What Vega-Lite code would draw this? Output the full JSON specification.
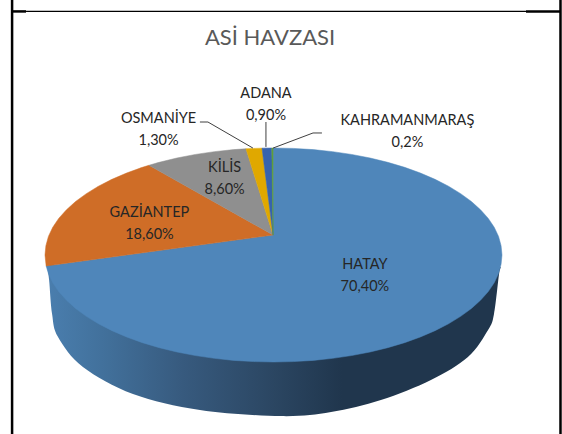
{
"$schema":"https://vega.github.io/schema/vega-lite/v6.json",
"width":562,"height":434,"padding":0,"autosize":"none","background":"white",
"view":{"stroke":null},
"title":{"text":"ASİ HAVZASI","anchor":"middle","frame":"group","offset":-55,"dx":-11,"font":"Lato","fontSize":22,"fontWeight":"normal","color":"#595959"},
"datasets":{
"slices":[
{"il":"HATAY","pay":70.4,"etiket":"HATAY\n70,40%","x":40.0,"y":-4.3},
{"il":"GAZİANTEP","pay":18.6,"etiket":"GAZİANTEP\n18,60%","x":-54.3,"y":18.4},
{"il":"KİLİS","pay":8.6,"etiket":"KİLİS\n8,60%","x":-21.4,"y":38.1},
{"il":"OSMANİYE","pay":1.3,"etiket":"OSMANİYE\n1,30%","x":-50.3,"y":59.6},
{"il":"ADANA","pay":0.9,"etiket":"ADANA\n0,90%","x":-3.3,"y":70.5},
{"il":"KAHRAMANMARAŞ","pay":0.2,"etiket":"KAHRAMANMARAŞ\n0,2%","x":58.6,"y":58.7}
],
"top":[
{"il":"HATAY","i":0,"x":-0.2,"y":8.75},{"il":"HATAY","i":1,"x":-0.2,"y":46.83},{"il":"HATAY","i":2,"x":8.7,"y":46.65},{"il":"HATAY","i":3,"x":17.4,"y":46.12},{"il":"HATAY","i":4,"x":25.9,"y":45.23},{"il":"HATAY","i":5,"x":34.2,"y":44.01},{"il":"HATAY","i":6,"x":42.3,"y":42.44},{"il":"HATAY","i":7,"x":50,"y":40.56},{"il":"HATAY","i":8,"x":57.4,"y":38.36},{"il":"HATAY","i":9,"x":64.3,"y":35.87},{"il":"HATAY","i":10,"x":70.7,"y":33.11},{"il":"HATAY","i":11,"x":76.6,"y":30.1},{"il":"HATAY","i":12,"x":81.9,"y":26.86},{"il":"HATAY","i":13,"x":86.6,"y":23.42},{"il":"HATAY","i":14,"x":90.6,"y":19.79},{"il":"HATAY","i":15,"x":94,"y":16.02},{"il":"HATAY","i":16,"x":96.6,"y":12.12},{"il":"HATAY","i":17,"x":98.5,"y":8.13},{"il":"HATAY","i":18,"x":99.6,"y":4.08},{"il":"HATAY","i":19,"x":100,"y":0},
{"il":"HATAY","i":20,"x":99.6,"y":-4.08},{"il":"HATAY","i":21,"x":98.5,"y":-8.13},{"il":"HATAY","i":22,"x":96.6,"y":-12.12},{"il":"HATAY","i":23,"x":94,"y":-16.02},{"il":"HATAY","i":24,"x":90.6,"y":-19.79},{"il":"HATAY","i":25,"x":86.6,"y":-23.42},{"il":"HATAY","i":26,"x":81.9,"y":-26.86},{"il":"HATAY","i":27,"x":76.6,"y":-30.1},{"il":"HATAY","i":28,"x":70.7,"y":-33.11},{"il":"HATAY","i":29,"x":64.3,"y":-35.87},{"il":"HATAY","i":30,"x":57.4,"y":-38.36},{"il":"HATAY","i":31,"x":50,"y":-40.56},{"il":"HATAY","i":32,"x":42.3,"y":-42.44},{"il":"HATAY","i":33,"x":34.2,"y":-44.01},{"il":"HATAY","i":34,"x":25.9,"y":-45.23},{"il":"HATAY","i":35,"x":17.4,"y":-46.12},{"il":"HATAY","i":36,"x":8.7,"y":-46.65},{"il":"HATAY","i":37,"x":0,"y":-46.83},
{"il":"HATAY","i":38,"x":-8.7,"y":-46.65},{"il":"HATAY","i":39,"x":-17.4,"y":-46.12},{"il":"HATAY","i":40,"x":-25.9,"y":-45.23},{"il":"HATAY","i":41,"x":-34.2,"y":-44.01},{"il":"HATAY","i":42,"x":-42.3,"y":-42.44},{"il":"HATAY","i":43,"x":-50,"y":-40.56},{"il":"HATAY","i":44,"x":-57.4,"y":-38.36},{"il":"HATAY","i":45,"x":-64.3,"y":-35.87},{"il":"HATAY","i":46,"x":-70.7,"y":-33.11},{"il":"HATAY","i":47,"x":-76.6,"y":-30.1},{"il":"HATAY","i":48,"x":-81.9,"y":-26.86},{"il":"HATAY","i":49,"x":-86.6,"y":-23.42},{"il":"HATAY","i":50,"x":-90.6,"y":-19.79},{"il":"HATAY","i":51,"x":-94,"y":-16.02},{"il":"HATAY","i":52,"x":-96.6,"y":-12.12},{"il":"HATAY","i":53,"x":-98.5,"y":-8.13},{"il":"HATAY","i":54,"x":-99.5,"y":-4.8},{"il":"HATAY","i":55,"x":-0.2,"y":8.75},
{"il":"GAZİANTEP","i":0,"x":-0.2,"y":8.75},{"il":"GAZİANTEP","i":1,"x":-99.5,"y":-4.8},{"il":"GAZİANTEP","i":2,"x":-100,"y":0},{"il":"GAZİANTEP","i":3,"x":-99.6,"y":4.08},{"il":"GAZİANTEP","i":4,"x":-98.5,"y":8.13},{"il":"GAZİANTEP","i":5,"x":-96.6,"y":12.12},{"il":"GAZİANTEP","i":6,"x":-94,"y":16.02},{"il":"GAZİANTEP","i":7,"x":-90.6,"y":19.79},{"il":"GAZİANTEP","i":8,"x":-86.6,"y":23.42},{"il":"GAZİANTEP","i":9,"x":-81.9,"y":26.86},{"il":"GAZİANTEP","i":10,"x":-76.6,"y":30.1},{"il":"GAZİANTEP","i":11,"x":-70.7,"y":33.11},{"il":"GAZİANTEP","i":12,"x":-64.3,"y":35.87},{"il":"GAZİANTEP","i":13,"x":-57.4,"y":38.36},{"il":"GAZİANTEP","i":14,"x":-54.5,"y":39.26},{"il":"GAZİANTEP","i":15,"x":-0.2,"y":8.75},
{"il":"KİLİS","i":0,"x":-0.2,"y":8.75},{"il":"KİLİS","i":1,"x":-54.5,"y":39.26},{"il":"KİLİS","i":2,"x":-50,"y":40.56},{"il":"KİLİS","i":3,"x":-42.3,"y":42.44},{"il":"KİLİS","i":4,"x":-34.2,"y":44.01},{"il":"KİLİS","i":5,"x":-25.9,"y":45.23},{"il":"KİLİS","i":6,"x":-17.4,"y":46.12},{"il":"KİLİS","i":7,"x":-12.04,"y":46.49},{"il":"KİLİS","i":8,"x":-0.2,"y":8.75},
{"il":"OSMANİYE","i":0,"x":-0.2,"y":8.75},{"il":"OSMANİYE","i":1,"x":-12.04,"y":46.49},{"il":"OSMANİYE","i":2,"x":-8.7,"y":46.65},{"il":"OSMANİYE","i":3,"x":-5.03,"y":46.77},{"il":"OSMANİYE","i":4,"x":-0.2,"y":8.75},
{"il":"ADANA","i":0,"x":-0.2,"y":8.75},{"il":"ADANA","i":1,"x":-5.03,"y":46.77},{"il":"ADANA","i":2,"x":-0.74,"y":46.83},{"il":"ADANA","i":3,"x":-0.2,"y":8.75},
{"il":"KAHRAMANMARAŞ","i":0,"x":-0.2,"y":8.75},{"il":"KAHRAMANMARAŞ","i":1,"x":-0.74,"y":46.83},{"il":"KAHRAMANMARAŞ","i":2,"x":-0.2,"y":46.83},{"il":"KAHRAMANMARAŞ","i":3,"x":-0.2,"y":8.75}
],
"side":[
{"i":0,"x":-99.1,"y":-4.8},{"i":1,"x":-98.2,"y":-10.9},{"i":2,"x":-96.9,"y":-25.8},{"i":3,"x":-94.3,"y":-35.9},{"i":4,"x":-83.4,"y":-49.0},{"i":5,"x":-61.5,"y":-60.8},{"i":6,"x":-32.2,"y":-67.8},{"i":7,"x":3.3,"y":-70.5},{"i":8,"x":25.2,"y":-68.7},{"i":9,"x":47.0,"y":-63.5},{"i":10,"x":68.9,"y":-54.7},{"i":11,"x":85.1,"y":-44.6},{"i":12,"x":93.9,"y":-32.8},{"i":13,"x":96.5,"y":-25.8},{"i":14,"x":98.7,"y":-8.3},{"i":15,"x":99.2,"y":-5.3},{"i":16,"x":95,"y":-6},{"i":17,"x":80,"y":-12},{"i":18,"x":0,"y":-30},{"i":19,"x":-80,"y":-12},{"i":20,"x":-95,"y":-5},{"i":21,"x":-99.1,"y":-4.8}
],
"leaders":[
{"il":"OSMANİYE","i":0,"x":-32.2,"y":58.2},{"il":"OSMANİYE","i":1,"x":-28.7,"y":58.2},{"il":"OSMANİYE","i":2,"x":-9.0,"y":46.8},
{"il":"ADANA","i":0,"x":-3.3,"y":58.2},{"il":"ADANA","i":1,"x":-3.3,"y":47.3},
{"il":"KAHRAMANMARAŞ","i":0,"x":21.2,"y":53.4},{"il":"KAHRAMANMARAŞ","i":1,"x":17.3,"y":53.4},{"il":"KAHRAMANMARAŞ","i":2,"x":-0.2,"y":46.8}
],
"frameThick":[
{"k":"sol","i":0,"x":-114.4,"y":111.6},{"k":"sol","i":1,"x":-114.4,"y":-78.3},
{"k":"sag","i":0,"x":125.6,"y":111.6},{"k":"sag","i":1,"x":125.6,"y":-78.3},
{"k":"ust1","i":0,"x":-114.4,"y":106.6},{"k":"ust1","i":1,"x":-108.3,"y":106.6},
{"k":"ust2","i":0,"x":110.5,"y":106.6},{"k":"ust2","i":1,"x":125.6,"y":106.6}
],
"frameThin":[{"i":0,"x":-108.3,"y":106.6},{"i":1,"x":110.5,"y":106.6}]
},
"encoding":{
"x":{"field":"x","type":"quantitative","scale":{"domain":[-119.69,126.26],"nice":false,"zero":false},"axis":null},
"y":{"field":"y","type":"quantitative","scale":{"domain":[-78.34,111.6],"nice":false,"zero":false},"axis":null},
"order":{"field":"i","type":"quantitative"}
},
"layer":[
{"data":{"name":"frameThick"},"mark":{"type":"line","stroke":"black","strokeWidth":2.5,"clip":false},"encoding":{"detail":{"field":"k"}}},
{"data":{"name":"frameThin"},"mark":{"type":"line","stroke":"black","strokeWidth":1.2}},
{"data":{"name":"side"},"mark":{"type":"line","interpolate":"cardinal","strokeWidth":0,"fill":{"gradient":"linear","x1":0,"x2":1,"y1":0,"y2":0,"stops":[{"offset":0,"color":"#4a7eae"},{"offset":0.12,"color":"#42719c"},{"offset":0.3,"color":"#375a7e"},{"offset":0.5,"color":"#2b4662"},{"offset":0.65,"color":"#20364d"},{"offset":1,"color":"#20364d"}]}}},
{"data":{"name":"top"},"mark":{"type":"line","strokeWidth":0.5},"encoding":{
"fill":{"field":"il","type":"nominal","legend":null,"scale":{"domain":["HATAY","GAZİANTEP","KİLİS","OSMANİYE","ADANA","KAHRAMANMARAŞ"],"range":["#4f86ba","#cf6d27","#8f8f8f","#e0a800","#3763ad","#5f9e3a"]}},
"stroke":{"field":"il","type":"nominal","legend":null,"scale":{"domain":["HATAY","GAZİANTEP","KİLİS","OSMANİYE","ADANA","KAHRAMANMARAŞ"],"range":["#4f86ba","#cf6d27","#8f8f8f","#e0a800","#3763ad","#5f9e3a"]}}}},
{"data":{"name":"leaders"},"mark":{"type":"line","stroke":"#404040","strokeWidth":1},"encoding":{"detail":{"field":"il"}}},
{"data":{"name":"slices"},"mark":{"type":"text","font":"Lato","fontSize":14.5,"color":"#262626","lineBreak":"\n","lineHeight":22,"align":"center","baseline":"middle"},"encoding":{"text":{"field":"etiket"},"order":null}}
]
}
